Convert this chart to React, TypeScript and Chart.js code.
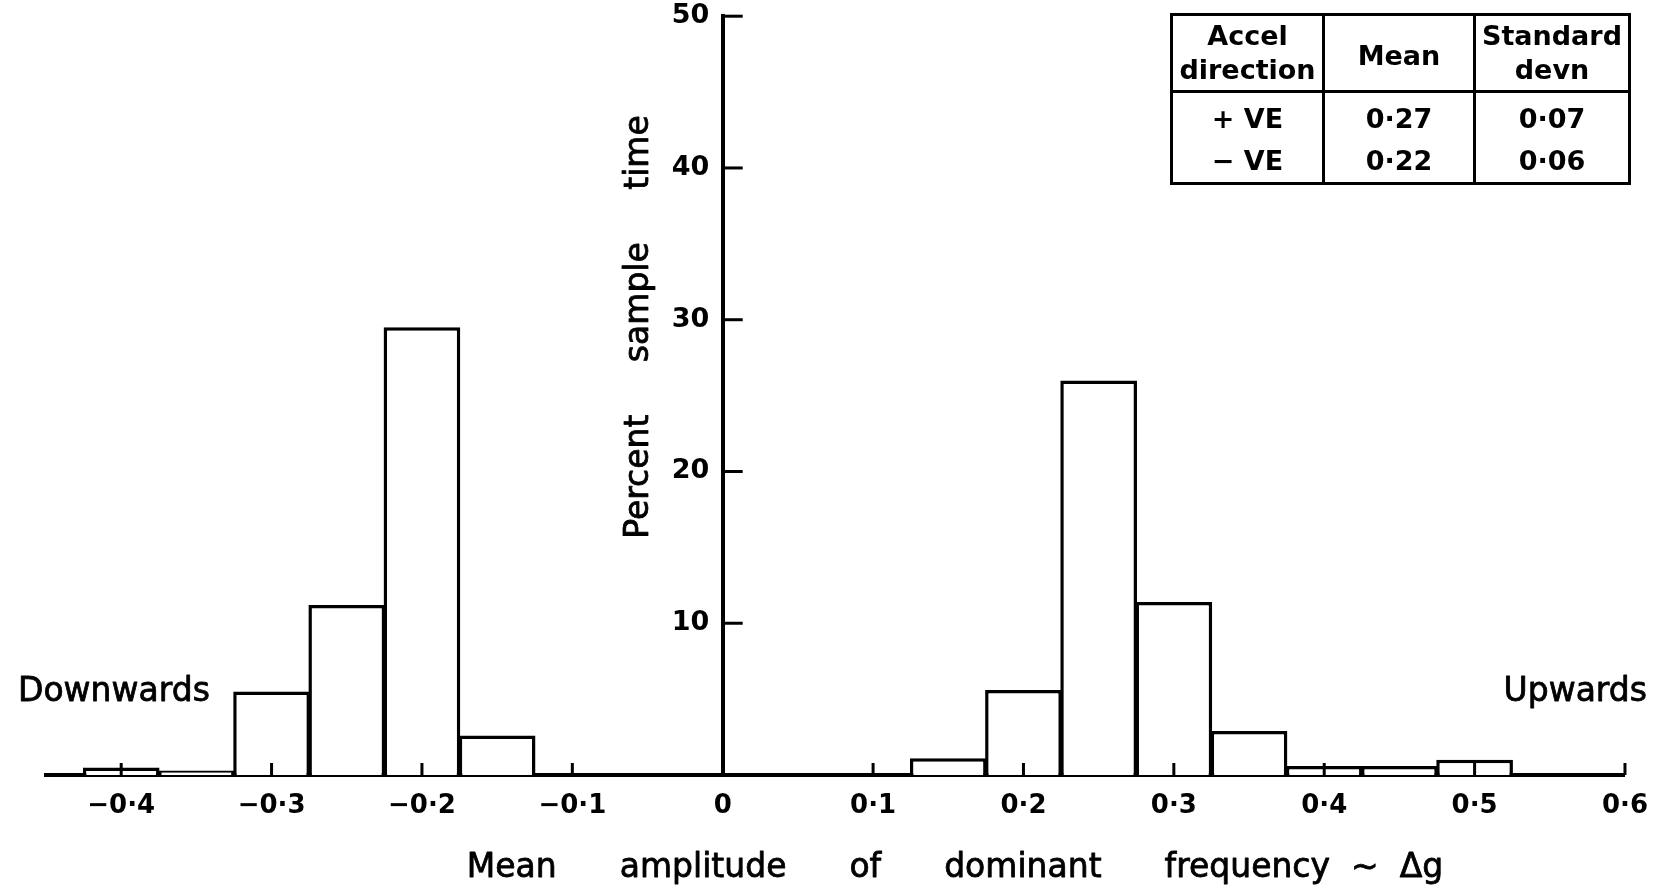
import React, { useEffect, useRef } from "react";
import { Chart, registerables } from "chart.js";

Chart.register(...registerables);

// ---- data ----
const downCenters = [-0.4, -0.35, -0.3, -0.25, -0.2, -0.15];
const downPercent = [0.5, 0.3, 5.5, 11.2, 29.5, 2.6];
const upCenters = [0.15, 0.2, 0.25, 0.3, 0.35, 0.4, 0.45, 0.5];
const upPercent = [1.1, 5.6, 26.0, 11.4, 2.9, 0.6, 0.6, 1.0];

const xTickValues = [-0.4, -0.3, -0.2, -0.1, 0, 0.1, 0.2, 0.3, 0.4, 0.5, 0.6];
const xTickLabels = ["−0·4", "−0·3", "−0·2", "−0·1", "0", "0·1", "0·2", "0·3", "0·4", "0·5", "0·6"];
const yTickValues = [10, 20, 30, 40, 50];
const yTickLabels = ["10", "20", "30", "40", "50"];

const xTitle = "Mean      amplitude      of      dominant      frequency  ∼  Δg";
const yTitle = "Percent     sample     time";
const downLabel = "Downwards";
const upLabel = "Upwards";

const tableHeader = ["Accel\ndirection", "Mean", "Standard\ndevn"];
const tableDirections = ["+ VE", "− VE"];
const tableMeans = ["0·27", "0·22"];
const tableStdDevs = ["0·07", "0·06"];

const FONT = "'DejaVu Sans', sans-serif";

export default function App() {
  const ref = useRef<HTMLCanvasElement>(null);

  useEffect(() => {
    const canvas = ref.current;
    if (!canvas) return;

    const barData = [
      ...downCenters.map((c, i) => ({ x: c, y: downPercent[i] })),
      ...upCenters.map((c, i) => ({ x: c, y: upPercent[i] })),
    ];

    const decor = {
      id: "decor",
      afterDraw(chart: any) {
        const { ctx, chartArea, scales } = chart;
        const xs = scales.x;
        const ys = scales.y;
        const x0 = xs.getPixelForValue(0);
        ctx.save();
        ctx.strokeStyle = "#000";
        ctx.lineWidth = 3;
        ys.ticks.forEach((t: any) => {
          const y = ys.getPixelForValue(t.value);
          ctx.beginPath();
          ctx.moveTo(x0, y);
          ctx.lineTo(x0 + 20, y);
          ctx.stroke();
        });
        xs.ticks.forEach((t: any) => {
          if (t.value === 0) return;
          const x = xs.getPixelForValue(t.value);
          ctx.beginPath();
          ctx.moveTo(x, chartArea.bottom);
          ctx.lineTo(x, chartArea.bottom - 12);
          ctx.stroke();
        });
        ctx.fillStyle = "#000";
        ctx.lineWidth = 0.8;
        ctx.lineJoin = "round";
        ctx.font = `33px ${FONT}`;
        ctx.textBaseline = "middle";
        const text = (s: string, x: number, y: number) => {
          ctx.fillText(s, x, y);
          ctx.strokeText(s, x, y);
        };
        ctx.textAlign = "left";
        text(downLabel, 18, 692);
        ctx.textAlign = "right";
        text(upLabel, 1647, 692);
        ctx.textAlign = "center";
        text(xTitle, 955, 868);
        ctx.translate(639, 327);
        ctx.rotate(-Math.PI / 2);
        text(yTitle, 0, 0);
        ctx.restore();
      },
    };

    const chart = new Chart(canvas, {
      type: "bar",
      data: {
        datasets: [
          {
            data: barData as any,
            backgroundColor: "#fff",
            borderColor: "#000",
            borderWidth: 3.5,
            borderSkipped: "start",
            barPercentage: 1.02,
            categoryPercentage: 1,
          },
        ],
      },
      options: {
        responsive: false,
        animation: false,
        events: [],
        layout: { padding: { left: 46, right: 30, top: 15, bottom: 120 } },
        plugins: { legend: { display: false }, tooltip: { enabled: false } },
        scales: {
          x: {
            type: "linear",
            position: { y: 0 } as any,
            min: -0.45,
            max: 0.6,
            offset: false,
            z: 1,
            grid: { display: false },
            border: { display: true, color: "#000", width: 4 },
            afterBuildTicks: (s: any) => {
              s.ticks = xTickValues.map((v) => ({ value: v }));
            },
            ticks: {
              color: "#000",
              font: { family: FONT, size: 26, weight: "bold" },
              padding: 8,
              maxRotation: 0,
              autoSkip: false,
              callback: (v: any) => {
                const i = xTickValues.findIndex((t) => Math.abs(t - Number(v)) < 1e-9);
                return i >= 0 ? xTickLabels[i] : "";
              },
            },
          },
          y: {
            type: "linear",
            position: { x: 0 } as any,
            min: 0,
            max: 50,
            z: 1,
            grid: { display: false },
            border: { display: true, color: "#000", width: 4 },
            afterBuildTicks: (s: any) => {
              s.ticks = yTickValues.map((v) => ({ value: v }));
            },
            ticks: {
              color: "#000",
              font: { family: FONT, size: 27, weight: "bold" },
              padding: 0,
              autoSkip: false,
              callback: (v: any) => {
                const i = yTickValues.indexOf(Number(v));
                return i >= 0 ? yTickLabels[i] + "\u2002" : "";
              },
            },
          },
        },
      },
      plugins: [decor],
    });

    return () => chart.destroy();
  }, []);

  const cellBorder = "3px solid #000";
  const bodyCell = (extra: any = {}) => ({
    borderLeft: cellBorder,
    borderRight: cellBorder,
    padding: 0,
    ...extra,
  });

  return (
    <div style={{ position: "absolute", left: 0, top: 0, width: 1656, height: 895, background: "#fff" }}>
      <canvas ref={ref} width={1656} height={895} style={{ display: "block" }} />
      <table
        style={{
          position: "absolute",
          left: 1170,
          top: 13,
          width: 458,
          borderCollapse: "collapse",
          border: cellBorder,
          fontFamily: FONT,
          fontSize: 27,
          fontWeight: "bold",
          lineHeight: "34px",
          textAlign: "center",
          tableLayout: "fixed",
          color: "#000",
        }}
      >
        <colgroup>
          <col style={{ width: 152 }} />
          <col style={{ width: 151 }} />
          <col style={{ width: 155 }} />
        </colgroup>
        <thead>
          <tr style={{ height: 77 }}>
            {tableHeader.map((h, i) => (
              <th
                key={i}
                style={{ border: cellBorder, fontWeight: "bold", padding: 0, paddingTop: i === 1 ? 6 : 0 }}
              >
                {h.split("\n").map((line, j) => (
                  <div key={j}>{line}</div>
                ))}
              </th>
            ))}
          </tr>
        </thead>
        <tbody>
          {tableDirections.map((d, r) => {
            const extra =
              r === 0
                ? { verticalAlign: "bottom", paddingBottom: 2 }
                : { verticalAlign: "top", paddingTop: 6 };
            return (
              <tr key={r} style={{ height: 46 }}>
                <td style={bodyCell(extra)}>{d}</td>
                <td style={bodyCell(extra)}>{tableMeans[r]}</td>
                <td style={bodyCell(extra)}>{tableStdDevs[r]}</td>
              </tr>
            );
          })}
        </tbody>
      </table>
    </div>
  );
}
